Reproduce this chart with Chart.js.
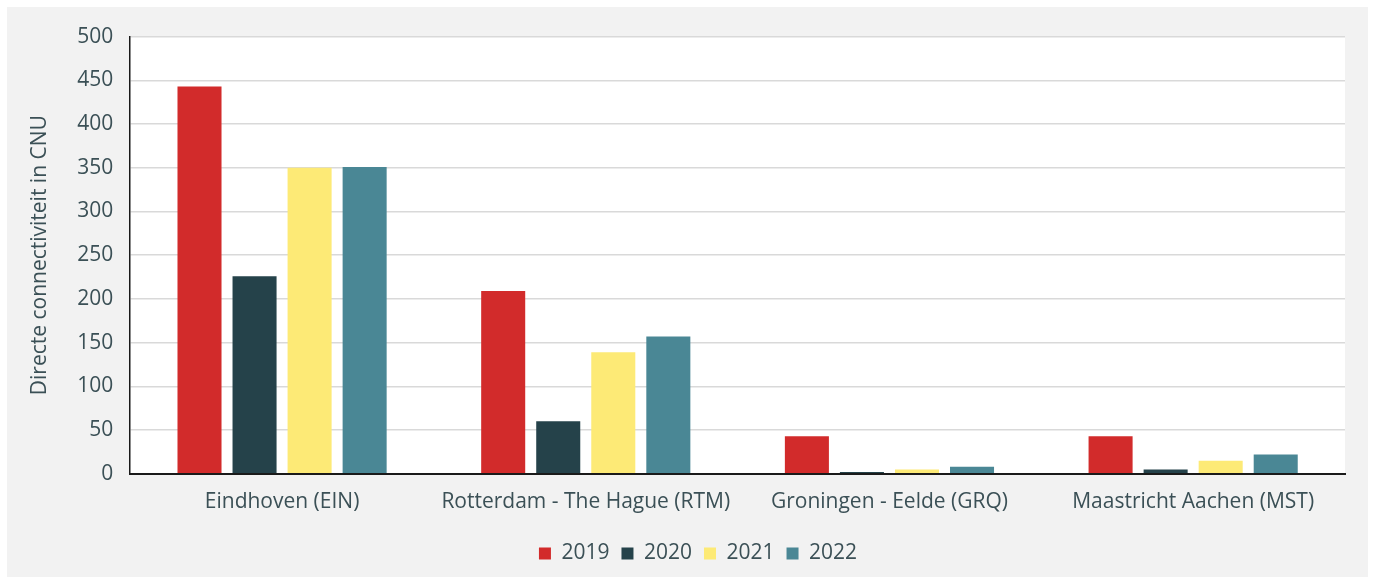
<!DOCTYPE html>
<html>
<head>
<meta charset="utf-8">
<script src="https://cdn.jsdelivr.net/npm/chart.js@4/dist/chart.umd.min.js"></script>
<style>
  html, body { margin: 0; padding: 0; background: #ffffff; }
  #wrap { position: absolute; left: 7px; top: 7px; width: 1361px; height: 570px; background: #f2f2f2; }
  canvas { display: block; }
</style>
</head>
<body>
<div id="wrap"><canvas id="chart"></canvas></div>
<script>
const categories = ['Eindhoven (EIN)', 'Rotterdam - The Hague (RTM)', 'Groningen - Eelde (GRQ)', 'Maastricht Aachen (MST)'];
const years = ['2019', '2020', '2021', '2022'];
const values2019 = [443, 209, 43, 43];
const values2020 = [226, 60, 2, 5];
const values2021 = [350, 139, 5, 15];
const values2022 = [351, 157, 8, 22];
const colors = ['#d22b2b', '#25424a', '#fdea76', '#4a8795'];
const yTicks = [0, 50, 100, 150, 200, 250, 300, 350, 400, 450, 500];

const textColor = '#3b5056';
const fontFamily = '"Open Sans", Lato, sans-serif';

// White fill behind the plotting area only; the rest of the card stays grey.
const plotBackground = {
  id: 'plotBackground',
  beforeDraw(chart) {
    const { ctx, chartArea } = chart;
    ctx.save();
    ctx.fillStyle = '#ffffff';
    ctx.fillRect(chartArea.left, chartArea.top, chartArea.right - chartArea.left, chartArea.bottom - chartArea.top);
    ctx.restore();
  }
};

// Nudge the legend row a little to the right of the canvas centre.
const legendOffset = {
  id: 'legendOffset',
  afterLayout(chart) {
    if (chart.legend) {
      chart.legend.left += 14;
      chart.legend.right += 14;
    }
  }
};

const series = [values2019, values2020, values2021, values2022];

new Chart(document.getElementById('chart'), {
  type: 'bar',
  data: {
    labels: categories,
    datasets: years.map((y, i) => ({
      label: y,
      data: series[i],
      backgroundColor: colors[i],
      borderWidth: 0,
      categoryPercentage: 0.725,
      barPercentage: 0.8
    }))
  },
  plugins: [plotBackground, legendOffset],
  options: {
    responsive: true,
    maintainAspectRatio: false,
    animation: false,
    layout: { padding: { left: 16, right: 23, top: 18, bottom: 3 } },
    plugins: {
      tooltip: { enabled: false },
      legend: {
        position: 'bottom',
        labels: {
          color: textColor,
          font: { family: fontFamily, size: 21 },
          boxWidth: 12,
          boxHeight: 12,
          padding: 12,
          useBorderRadius: false
        }
      }
    },
    scales: {
      x: {
        grid: { display: false, drawTicks: false },
        border: { display: true, color: '#1a1a1a', width: 2 },
        ticks: { color: textColor, font: { family: fontFamily, size: 21 }, padding: 16 }
      },
      y: {
        min: 0,
        max: 500,
        afterBuildTicks(axis) { axis.ticks = yTicks.map(v => ({ value: v })); },
        grid: { color: '#d9d9d9', lineWidth: 1.5, drawTicks: false },
        border: { display: true, color: '#1a1a1a', width: 1.5 },
        ticks: { color: textColor, font: { family: fontFamily, size: 21 }, padding: 17 },
        title: {
          display: true,
          text: 'Directe connectiviteit in CNU',
          color: textColor,
          font: { family: fontFamily, size: 21 },
          padding: { bottom: 8 }
        }
      }
    }
  }
});
</script>
</body>
</html>
